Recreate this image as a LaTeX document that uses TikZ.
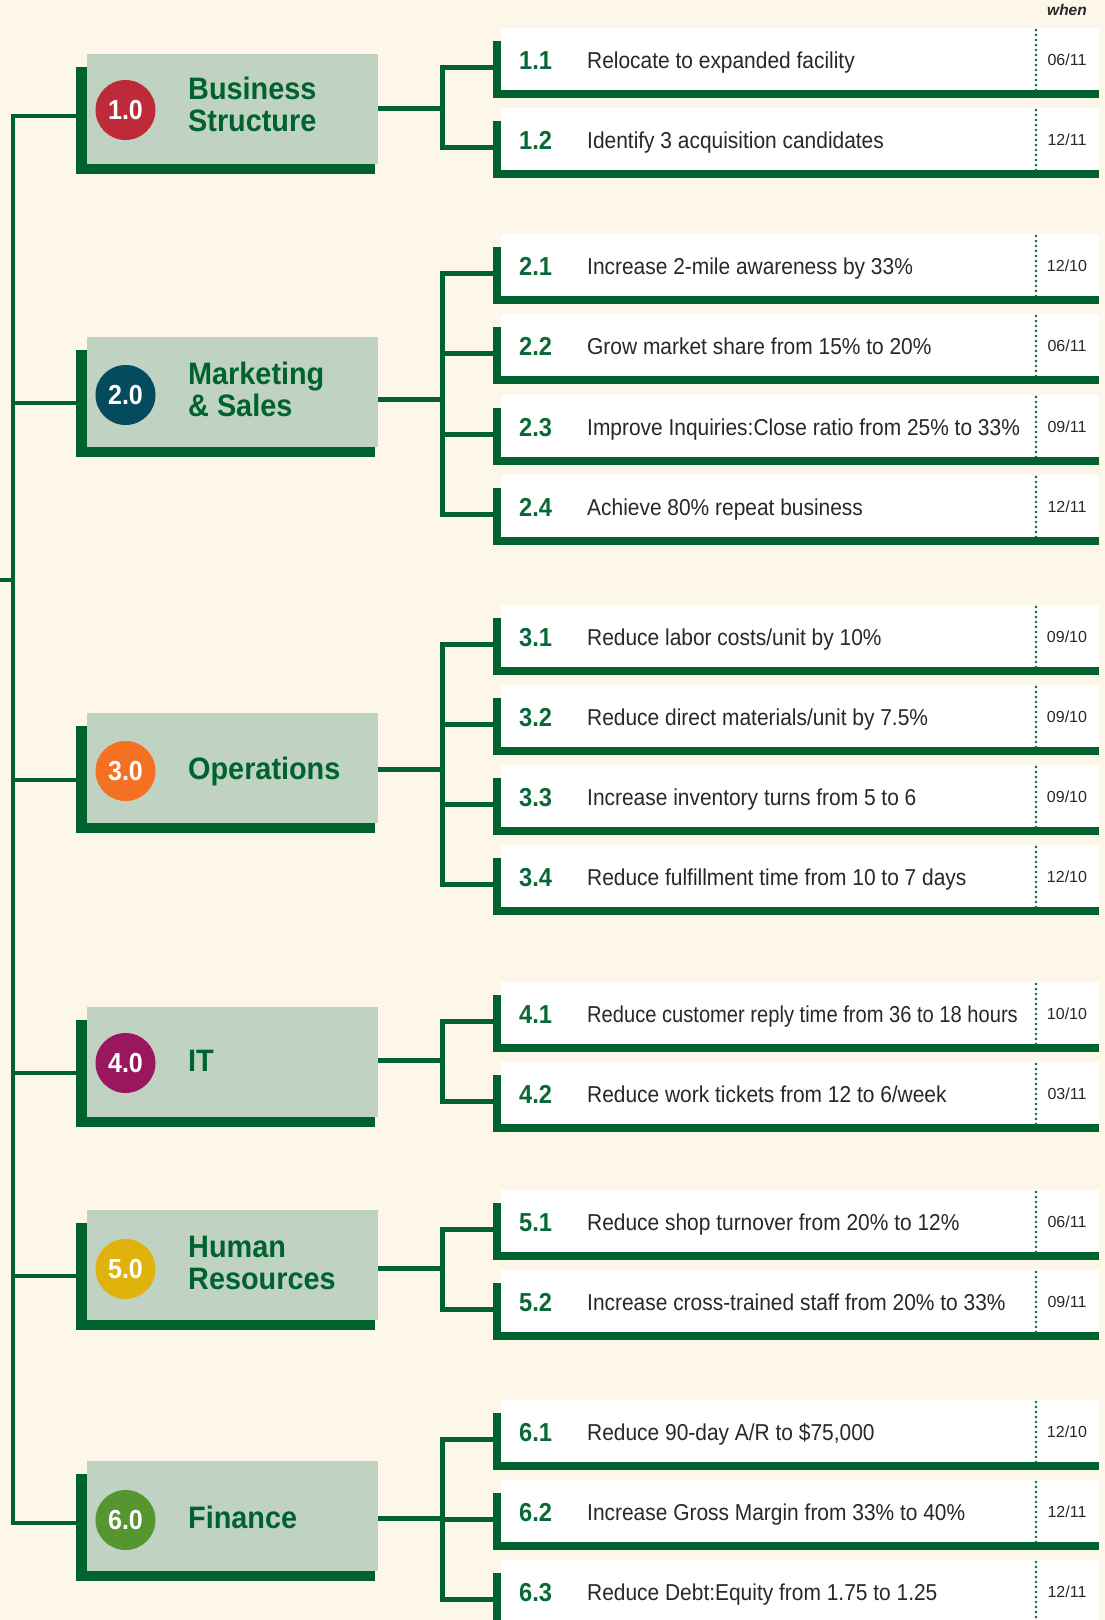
\documentclass[tikz,border=0pt]{standalone}
\usepackage{fontspec}
\newfontfamily\nf{Liberation Sans}[FakeStretch=0.91]
\newfontfamily\nfx{Liberation Sans}[FakeStretch=0.875]
\newfontfamily\nfc{Liberation Sans}[FakeStretch=0.93]
\newfontfamily\df{Liberation Sans}
\definecolor{bgc}{RGB}{253,247,233}
\definecolor{dg}{RGB}{0,98,46}
\definecolor{numg}{RGB}{8,104,56}
\definecolor{lightg}{RGB}{192,211,194}
\definecolor{txt}{RGB}{40,40,40}
\definecolor{cred}{RGB}{190,42,55}
\definecolor{cteal}{RGB}{4,75,94}
\definecolor{corange}{RGB}{243,113,33}
\definecolor{cmag}{RGB}{154,22,94}
\definecolor{cyel}{RGB}{224,178,12}
\definecolor{cgreen}{RGB}{85,150,48}
\tikzset{
 conn/.style={draw=dg, line width=5pt, line join=miter},
 spine/.style={draw=dg, line width=4.5pt, line join=miter},
 catshadow/.style={fill=dg, minimum width=299pt, minimum height=107pt, inner sep=0pt, anchor=north west},
 catfill/.style={fill=lightg, minimum width=291pt, minimum height=110pt, inner sep=0pt, anchor=north west},
 catcircle/.style={circle, minimum size=60pt, inner sep=0pt, text=white, font=\nf\bfseries\fontsize{27.5}{30}\selectfont},
 cattext/.style={text=dg, inner sep=0pt, align=left, font=\nfc\bfseries\fontsize{31}{31.7}\selectfont},
 goalbar/.style={fill=dg, minimum width=606pt, minimum height=57pt, inner sep=0pt, anchor=north west},
 goalbox/.style={fill=white, minimum width=598pt, minimum height=62pt, inner sep=0pt, anchor=north west},
 goalnum/.style={text=numg, inner sep=0pt, anchor=base west, font=\nf\bfseries\fontsize{26}{30}\selectfont},
 goaltext/.style={text=txt, inner sep=0pt, anchor=base west, font=\nf\fontsize{23}{27}\selectfont},
 goaldate/.style={text=txt, inner sep=0pt, anchor=base, font=\df\fontsize{16}{18}\selectfont},
 datesep/.style={draw=dg, line width=2.7pt, line cap=round, dash pattern=on 0pt off 5pt},
}
% #1 id, #2 top, #3 number, #4 text, #5 date
\newcommand\goalrow[5]{%
 \node[goalbar] (gb#1) at (493,#2+13) {};
 \node[goalbox] (g#1) at (501,#2) {};
 \node[goalnum] (gn#1) at (519,#2+41) {#3};
 \node[goaltext] (gt#1) at (587,#2+40) {#4};
 \node[goaldate] (gd#1) at (1067,#2+37) {#5};
 \draw[datesep] ([xshift=535pt,yshift=-2pt]g#1.north west) -- ([xshift=535pt]g#1.south west);
 \coordinate (b#1) at (442,#2+39);
}
% #1 id, #2 light top, #3 circle y, #4 colour, #5 number
\newcommand\category[5]{%
 \node[catshadow] (sh#1) at (76,#2+13) {};
 \node[catfill] (cat#1) at (87,#2) {};
 \node[catcircle, fill=#4] (ci#1) at (125.5,#3) {#5};
}
\begin{document}
\begin{tikzpicture}[x=1pt, y=-1pt]
\useasboundingbox (0,0) rectangle (1105,1620);
\fill[bgc] (0,0) rectangle (1105,1620);

% categories
\category{1}{54}{110}{cred}{1.0}
\category{2}{337}{395}{cteal}{2.0}
\category{3}{713}{771}{corange}{3.0}
\category{4}{1007}{1063}{cmag}{4.0}
\category{5}{1210}{1269}{cyel}{5.0}
\category{6}{1461}{1520}{cgreen}{6.0}

\node[cattext, anchor=north west] (ct1) at (188,110-33) {Business\\Structure};
\node[cattext, anchor=north west] (ct2) at (188,395-33) {Marketing\\\& Sales};
\node[cattext, anchor=base west] (ct3) at (188,771+8) {Operations};
\node[cattext, anchor=base west] (ct4) at (188,1063+8) {IT};
\node[cattext, anchor=north west] (ct5) at (188,1269-33) {Human\\Resources};
\node[cattext, anchor=base west] (ct6) at (188,1520+8) {Finance};

% goals
\node[text=txt, inner sep=0pt, anchor=base east, font=\df\bfseries\itshape\fontsize{15.5}{18}\selectfont] (when) at (1087,15) {when};
\goalrow{11}{28}{1.1}{Relocate to expanded facility}{06/11}
\goalrow{12}{108}{1.2}{Identify 3 acquisition candidates}{12/11}
\goalrow{21}{234}{2.1}{Increase 2-mile awareness by 33\%}{12/10}
\goalrow{22}{314}{2.2}{Grow market share from 15\% to 20\%}{06/11}
\goalrow{23}{395}{2.3}{Improve Inquiries:Close ratio from 25\% to 33\%}{09/11}
\goalrow{24}{475}{2.4}{Achieve 80\% repeat business}{12/11}
\goalrow{31}{605}{3.1}{Reduce labor costs/unit by 10\%}{09/10}
\goalrow{32}{685}{3.2}{Reduce direct materials/unit by 7.5\%}{09/10}
\goalrow{33}{765}{3.3}{Increase inventory turns from 5 to 6}{09/10}
\goalrow{34}{845}{3.4}{Reduce fulfillment time from 10 to 7 days}{12/10}
\goalrow{41}{982}{4.1}{\nfx Reduce customer reply time from 36 to 18 hours}{10/10}
\goalrow{42}{1062}{4.2}{Reduce work tickets from 12 to 6/week}{03/11}
\goalrow{51}{1190}{5.1}{Reduce shop turnover from 20\% to 12\%}{06/11}
\goalrow{52}{1270}{5.2}{Increase cross-trained staff from 20\% to 33\%}{09/11}
\goalrow{61}{1400}{6.1}{Reduce 90-day A/R to \$75,000}{12/10}
\goalrow{62}{1480}{6.2}{Increase Gross Margin from 33\% to 40\%}{12/11}
\goalrow{63}{1560}{6.3}{Reduce Debt:Equity from 1.75 to 1.25}{12/11}

% spine
\coordinate (s1) at (13,116);
\coordinate (s2) at (13,403);
\coordinate (s3) at (13,780);
\coordinate (s4) at (13,1073);
\coordinate (s5) at (13,1276);
\coordinate (s6) at (13,1523);
\coordinate (s0) at (13,580);
\coordinate (e0) at (0,580);
\draw[spine] (sh1.west |- s1) -- (s1) -- (s6) -- (sh6.west |- s6);
\foreach \i in {2,...,5} \draw[spine] (s\i) -- (sh\i.west |- s\i);
\draw[spine] (e0) -- (s0);

% branches
\coordinate (r1) at (442,108);
\coordinate (r2) at (442,399);
\coordinate (r3) at (442,769);
\coordinate (r4) at (442,1060);
\coordinate (r5) at (442,1268);
\coordinate (r6) at (442,1518);
\foreach \i in {1,...,6} \draw[conn] (cat\i.east |- r\i) -- (r\i);

\draw[conn] (gb11.west |- b11) -- (b11) -- (b12) -- (gb12.west |- b12);
\draw[conn] (gb21.west |- b21) -- (b21) -- (b24) -- (gb24.west |- b24);
\draw[conn] (b22) -- (gb22.west |- b22);
\draw[conn] (b23) -- (gb23.west |- b23);
\draw[conn] (gb31.west |- b31) -- (b31) -- (b34) -- (gb34.west |- b34);
\draw[conn] (b32) -- (gb32.west |- b32);
\draw[conn] (b33) -- (gb33.west |- b33);
\draw[conn] (gb41.west |- b41) -- (b41) -- (b42) -- (gb42.west |- b42);
\draw[conn] (gb51.west |- b51) -- (b51) -- (b52) -- (gb52.west |- b52);
\draw[conn] (gb61.west |- b61) -- (b61) -- (b63) -- (gb63.west |- b63);
\draw[conn] (b62) -- (gb62.west |- b62);
\end{tikzpicture}
\end{document}
